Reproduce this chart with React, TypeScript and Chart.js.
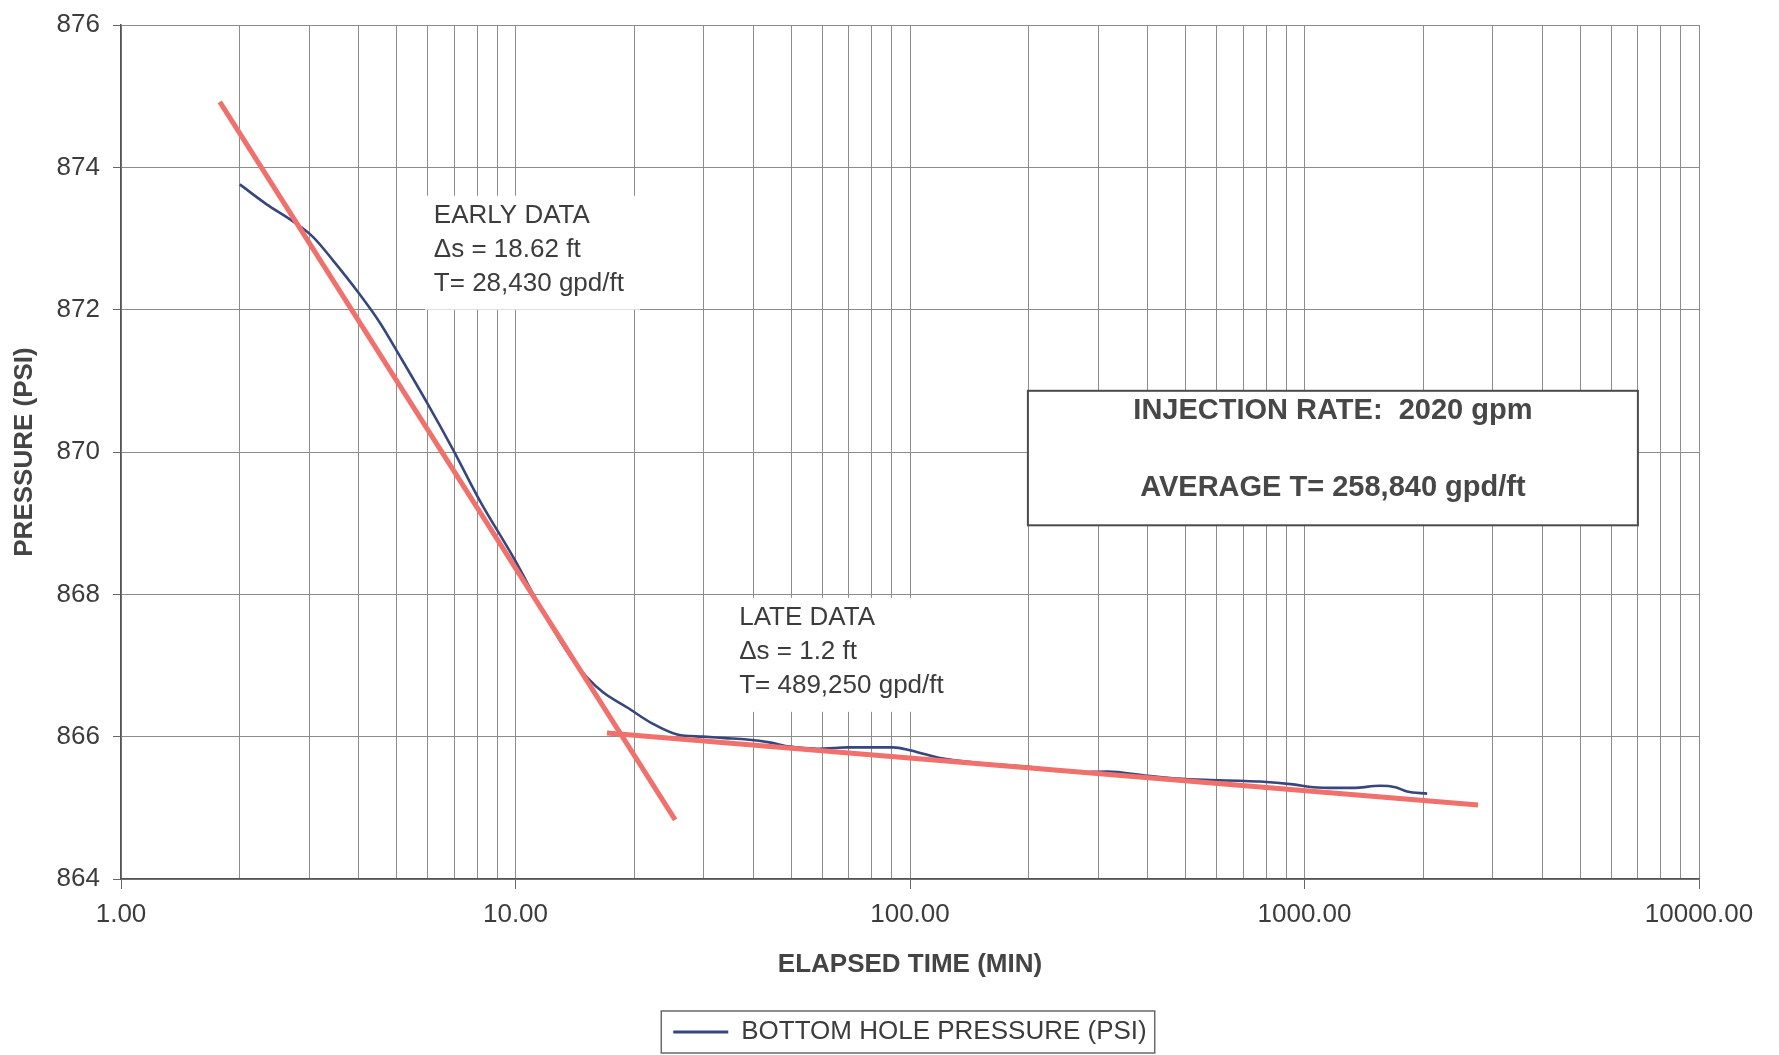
import React, { useEffect, useRef } from 'react';
import { Chart, registerables } from 'chart.js';

Chart.register(...registerables);

// ---- data ----
const blueTimes = [
  2.0, 2.34, 2.73, 3.07, 3.45, 3.96, 4.54, 5.1, 5.97, 6.95, 8.13, 9.92, 11.88, 14.0, 15.2, 16.7,
  19.2, 22.3, 25.7, 29.9, 34.0, 38.6, 44.0, 49.6, 54.0, 59.1, 64.0, 69.2, 79.2, 90.6, 100, 108,
  119, 150, 198, 270, 316, 400, 475, 576, 680, 771, 935, 1052, 1200, 1328, 1555, 1700, 1820, 2046,
];
const bluePressures = [
  873.76, 873.48, 873.24, 873.02, 872.69, 872.27, 871.81, 871.34, 870.69, 870.03, 869.31, 868.5,
  867.7, 867.07, 866.83, 866.62, 866.41, 866.18, 866.03, 866.0, 865.98, 865.96, 865.92, 865.86,
  865.84, 865.83, 865.84, 865.85, 865.85, 865.85, 865.81, 865.76, 865.7, 865.63, 865.58, 865.5,
  865.51, 865.45, 865.41, 865.39, 865.38, 865.37, 865.33, 865.29, 865.28, 865.28, 865.31, 865.29,
  865.23, 865.2,
];
const earlyFitTimes = [1.78, 25.4];
const earlyFitPressures = [874.92, 864.83];
const lateFitTimes = [17.06, 2754];
const lateFitPressures = [866.05, 865.04];

const yMin = 864;
const yMax = 876;
const yStep = 2;
const xMin = 1;
const xMax = 10000;
const xDecades = [1, 10, 100, 1000, 10000];
const xMinorMultipliers = [1, 2, 3, 4, 5, 6, 7, 8, 9];

const seriesLabel = 'BOTTOM HOLE PRESSURE (PSI)';
const xAxisTitle = 'ELAPSED TIME (MIN)';
const yAxisTitle = 'PRESSURE (PSI)';
const earlyNote = ['EARLY DATA', 'Δs = 18.62 ft', 'T= 28,430 gpd/ft'];
const earlyNoteAnchor = [6.21, 873.32]; // time, pressure of first line (left, middle)
const lateNote = ['LATE DATA', 'Δs = 1.2 ft', 'T= 489,250 gpd/ft'];
const lateNoteAnchor = [36.9, 867.67];
const boxNote = ['INJECTION RATE:  2020 gpm', 'AVERAGE T= 258,840 gpd/ft'];
const boxNoteCorners = [199, 870.86, 7000, 868.97]; // t0, pTop, t1, pBottom

const FONT = '"Liberation Sans", Arial, Helvetica, sans-serif';
const TEXT = '#3c3c3c';
const BLUE = '#37467d';
const RED = '#f0706c';
const GRID = '#8c8c8c';

export default function App() {
  const ref = useRef<HTMLCanvasElement>(null);

  useEffect(() => {
    document.body.style.margin = '0';
    const canvas = ref.current;
    if (!canvas) return;

    const xTickValues: number[] = [];
    for (const d of xDecades.slice(0, -1)) for (const m of xMinorMultipliers) xTickValues.push(d * m);
    xTickValues.push(xDecades[xDecades.length - 1]);
    const isDecade = (v: number) => xDecades.includes(v);

    const notesPlugin = {
      id: 'notes',
      beforeDatasetsDraw(chart: any) {
        const { ctx, scales } = chart;
        const x = scales.x;
        const y = scales.y;
        ctx.save();
        const drawNote = (lines: string[], anchor: number[]) => {
          const left = x.getPixelForValue(anchor[0]);
          const firstY = y.getPixelForValue(anchor[1]);
          ctx.font = `26px ${FONT}`;
          const w = Math.max(...lines.map((l) => ctx.measureText(l).width));
          const lh = 34;
          ctx.fillStyle = '#ffffff';
          ctx.fillRect(left - 9, firstY - 20, w + 25, lh * (lines.length - 1) + 46);
          ctx.fillStyle = TEXT;
          ctx.textAlign = 'left';
          ctx.textBaseline = 'middle';
          lines.forEach((l, i) => ctx.fillText(l, left, firstY + i * lh));
        };
        drawNote(earlyNote, earlyNoteAnchor);
        drawNote(lateNote, lateNoteAnchor);

        const bx0 = x.getPixelForValue(boxNoteCorners[0]);
        const by0 = y.getPixelForValue(boxNoteCorners[1]);
        const bx1 = x.getPixelForValue(boxNoteCorners[2]);
        const by1 = y.getPixelForValue(boxNoteCorners[3]);
        ctx.fillStyle = '#ffffff';
        ctx.fillRect(bx0, by0, bx1 - bx0, by1 - by0);
        ctx.strokeStyle = '#4a4a4a';
        ctx.lineWidth = 2;
        ctx.strokeRect(bx0, by0, bx1 - bx0, by1 - by0);
        ctx.font = `bold 29px ${FONT}`;
        ctx.fillStyle = '#474747';
        ctx.textAlign = 'center';
        ctx.textBaseline = 'middle';
        const cx = (bx0 + bx1) / 2;
        ctx.fillText(boxNote[0], cx, by0 + 20);
        ctx.fillText(boxNote[1], cx, by0 + 97);
        ctx.restore();
      },
      afterDraw(chart: any) {
        const legend = chart.legend;
        if (!legend || !legend.legendHitBoxes || !legend.legendHitBoxes.length) return;
        const hb = legend.legendHitBoxes[0];
        const { ctx } = chart;
        ctx.save();
        ctx.strokeStyle = '#6a6a6a';
        ctx.lineWidth = 1.5;
        ctx.strokeRect(hb.left - 12, hb.top - 8, hb.width + 20, hb.height + 16);
        ctx.restore();
      },
    };

    const chart = new Chart(canvas, {
      type: 'line',
      data: {
        datasets: [
          {
            label: seriesLabel,
            data: blueTimes.map((t, i) => ({ x: t, y: bluePressures[i] })),
            borderColor: BLUE,
            backgroundColor: BLUE,
            borderWidth: 2.6,
            pointRadius: 0,
            cubicInterpolationMode: 'monotone',
            order: 2,
          },
          {
            label: 'early fit',
            data: earlyFitTimes.map((t, i) => ({ x: t, y: earlyFitPressures[i] })),
            borderColor: RED,
            backgroundColor: RED,
            borderWidth: 5,
            pointRadius: 0,
            order: 1,
          },
          {
            label: 'late fit',
            data: lateFitTimes.map((t, i) => ({ x: t, y: lateFitPressures[i] })),
            borderColor: RED,
            backgroundColor: RED,
            borderWidth: 5,
            pointRadius: 0,
            order: 1,
          },
        ],
      },
      options: {
        responsive: false,
        animation: false,
        events: [],
        layout: { padding: { top: 25, right: 80, bottom: 0, left: 0 } },
        scales: {
          x: {
            type: 'logarithmic',
            min: xMin,
            max: xMax,
            afterBuildTicks: (scale: any) => {
              scale.ticks = xTickValues.map((v) => ({ value: v, major: isDecade(v) }));
            },
            afterFit: (scale: any) => {
              scale.height = 130;
            },
            ticks: {
              autoSkip: false,
              maxRotation: 0,
              minRotation: 0,
              padding: 10,
              color: TEXT,
              font: { family: FONT, size: 26 },
              callback: (v: any) => (isDecade(Number(v)) ? Number(v).toFixed(2) : ''),
            },
            grid: {
              color: GRID,
              lineWidth: 1,
              tickLength: 10,
              tickColor: (c: any) => (c.tick && isDecade(c.tick.value) ? '#666' : 'rgba(0,0,0,0)'),
            },
            border: { color: '#555', width: 1.5 },
            title: {
              display: true,
              text: xAxisTitle,
              color: '#444',
              font: { family: FONT, size: 26, weight: 'bold' },
              padding: { top: 0, bottom: 29 },
            },
          },
          y: {
            type: 'linear',
            min: yMin,
            max: yMax,
            afterFit: (scale: any) => {
              scale.width = 121;
              scale.paddingTop = 0;
              scale.paddingBottom = 0;
            },
            ticks: {
              stepSize: yStep,
              padding: 13,
              color: TEXT,
              font: { family: FONT, size: 26 },
            },
            grid: { color: GRID, lineWidth: 1, tickLength: 8, tickColor: '#666' },
            border: { color: '#555', width: 1.5 },
            title: {
              display: true,
              text: yAxisTitle,
              color: '#444',
              font: { family: FONT, size: 26, weight: 'bold' },
              padding: { top: 9, bottom: 0 },
            },
          },
        },
        plugins: {
          legend: {
            position: 'bottom',
            fullSize: false,
            labels: {
              color: TEXT,
              font: { family: FONT, size: 26 },
              boxWidth: 55,
              boxHeight: 3,
              padding: 10,
              filter: (item: any) => item.datasetIndex === 0,
              generateLabels: (ch: any) => {
                const items = Chart.defaults.plugins.legend.labels.generateLabels(ch);
                return items.map((it: any) => ({ ...it, lineWidth: 0, fillStyle: BLUE }));
              },
            },
          },
          tooltip: { enabled: false },
        },
      } as any,
      plugins: [notesPlugin],
    });

    return () => chart.destroy();
  }, []);

  return (
    <div style={{ width: 1779, height: 1055, background: '#fff' }}>
      <canvas ref={ref} width={1779} height={1055} style={{ display: 'block' }} />
    </div>
  );
}
